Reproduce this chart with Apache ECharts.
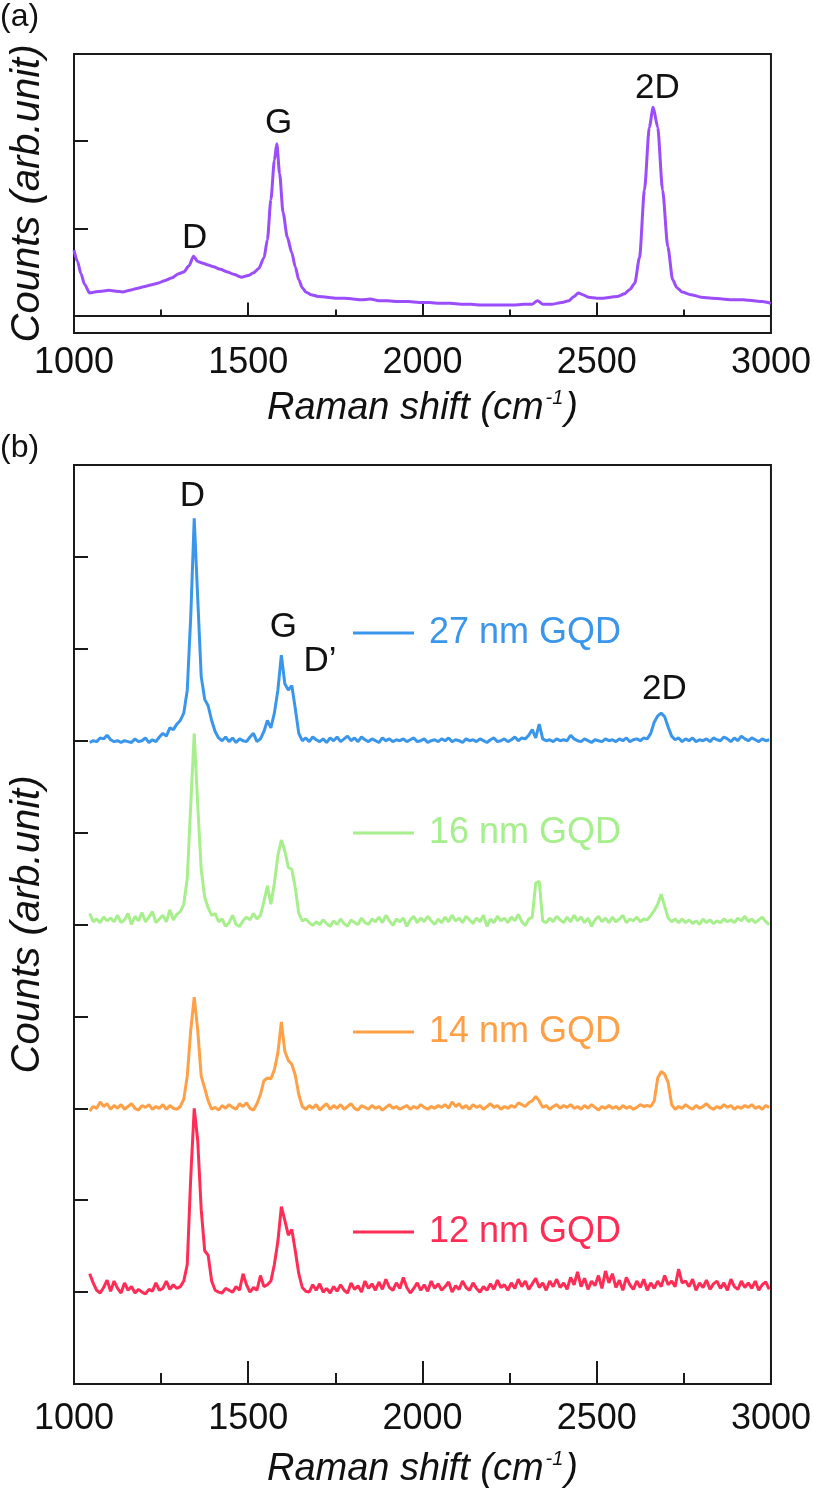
<!DOCTYPE html>
<html><head><meta charset="utf-8">
<script src="https://cdn.jsdelivr.net/npm/echarts@6/dist/echarts.min.js"></script>
<style>html,body{margin:0;padding:0;background:#fff}#c{width:814px;height:1496px}</style>
</head><body><div id="c"></div>
<script>
// ---------- panel (a): graphene ----------
const shiftA = [1000,1010,1020,1030,1045,1060,1080,1100,1120,1140,1160,1180,1200,1220,1240,1260,1280,1300,1315,1330,1343,1355,1370,1385,1400,1420,1440,1460,1480,1500,1515,1530,1545,1555,1565,1575,1582,1590,1600,1612,1625,1635,1645,1655,1665,1680,1700,1725,1750,1775,1800,1825,1850,1875,1900,1930,1960,1990,2020,2050,2080,2110,2140,2170,2200,2230,2260,2290,2315,2330,2345,2370,2400,2420,2435,2447,2460,2477,2500,2520,2540,2560,2580,2595,2609,2623,2637,2651,2662,2675,2689,2704,2718,2730,2745,2770,2800,2830,2860,2890,2920,2950,2975,3000];
const countsA = [0.75,0.62,0.48,0.36,0.26,0.27,0.28,0.29,0.28,0.27,0.29,0.31,0.33,0.35,0.37,0.40,0.43,0.48,0.50,0.57,0.68,0.62,0.60,0.58,0.56,0.53,0.50,0.47,0.44,0.46,0.49,0.54,0.66,0.87,1.33,1.78,1.97,1.63,1.18,0.90,0.72,0.56,0.41,0.32,0.27,0.24,0.22,0.21,0.20,0.20,0.19,0.18,0.19,0.17,0.17,0.16,0.16,0.15,0.15,0.14,0.14,0.13,0.13,0.12,0.12,0.12,0.12,0.13,0.13,0.17,0.13,0.13,0.15,0.17,0.22,0.26,0.24,0.21,0.20,0.20,0.21,0.22,0.25,0.30,0.37,0.67,1.44,2.16,2.39,2.16,1.44,0.79,0.41,0.32,0.27,0.24,0.21,0.20,0.19,0.18,0.18,0.17,0.16,0.14];
const peakNamesA = ['D','G','2D'];

// ---------- panel (b): GQDs (stacked with offsets) ----------
const shiftB = [
1045,1055,1065,1075,1085,1095,1105,1115,1125,1135,
1145,1155,1165,1175,1185,1195,1205,1215,1225,1235,
1245,1255,1265,1275,1285,1295,1305,1315,1325,1335,
1345,1355,1365,1375,1385,1395,1405,1415,1425,1435,
1445,1455,1465,1475,1485,1495,1505,1515,1525,1535,
1545,1555,1565,1575,1585,1595,1605,1615,1625,1635,
1645,1655,1665,1675,1685,1695,1705,1715,1725,1735,
1745,1755,1765,1775,1785,1795,1805,1815,1825,1835,
1845,1855,1865,1875,1885,1895,1905,1915,1925,1935,
1945,1955,1965,1975,1985,1995,2005,2015,2025,2035,
2045,2055,2065,2075,2085,2095,2105,2115,2125,2135,
2145,2155,2165,2175,2185,2195,2205,2215,2225,2235,
2245,2255,2265,2275,2285,2295,2305,2315,2325,2335,
2345,2355,2365,2375,2385,2395,2405,2415,2425,2435,
2445,2455,2465,2475,2485,2495,2505,2515,2525,2535,
2545,2555,2565,2575,2585,2595,2605,2615,2625,2635,
2645,2655,2665,2675,2685,2695,2705,2715,2725,2735,
2745,2755,2765,2775,2785,2795,2805,2815,2825,2835,
2845,2855,2865,2875,2885,2895,2905,2915,2925,2935,
2945,2955,2965,2975,2985,2995];
const gqd27 = [
6.98,7.00,6.99,7.03,7.02,7.06,7.01,6.99,7.00,6.98,
7.00,6.99,6.98,7.02,6.99,7.00,7.03,6.98,7.01,6.99,
7.04,7.08,7.05,7.14,7.12,7.18,7.22,7.30,7.55,8.35,
9.42,8.55,7.70,7.45,7.38,7.22,7.10,7.03,7.00,7.04,
6.99,7.03,6.98,7.02,7.00,6.99,7.04,7.08,6.99,7.02,
7.10,7.22,7.14,7.30,7.55,7.93,7.62,7.55,7.60,7.35,
7.08,7.00,7.03,6.99,7.04,7.01,6.99,7.02,6.98,7.03,
7.00,7.04,6.99,7.02,7.05,7.00,7.03,6.99,7.04,7.01,
6.99,7.02,7.00,6.98,7.03,7.00,7.02,6.99,7.01,7.00,
7.02,6.99,7.01,7.03,6.99,7.00,7.02,6.98,7.00,7.01,
6.99,7.02,7.00,7.03,6.99,7.01,7.00,6.98,7.02,7.00,
7.01,6.99,7.02,7.00,6.98,7.01,7.03,6.99,7.00,7.02,
6.99,7.01,7.04,7.00,7.03,7.02,7.06,7.12,7.03,7.18,
7.02,7.00,7.01,6.99,7.02,7.00,7.01,7.00,7.06,7.02,
7.00,6.99,7.02,7.00,6.98,7.01,7.00,6.99,7.02,7.00,
7.01,6.99,7.02,7.00,7.03,6.99,7.01,7.02,7.00,7.03,
7.02,7.08,7.20,7.27,7.30,7.26,7.15,7.05,7.01,7.03,
6.99,7.02,7.00,7.03,6.99,7.01,7.00,7.02,6.99,7.03,
7.01,7.00,7.04,7.02,6.99,7.03,7.00,7.05,7.02,7.00,
7.03,7.01,6.99,7.02,7.00,7.01];
const gqd16 = [
5.12,5.03,5.06,5.02,5.08,5.04,5.07,5.03,5.10,5.02,
5.05,5.12,5.00,5.09,5.04,5.13,5.03,5.08,5.14,5.02,
5.06,5.10,5.03,5.16,5.05,5.11,5.14,5.22,5.50,6.30,
7.08,6.30,5.60,5.30,5.18,5.10,5.12,5.03,5.06,4.98,
5.02,5.10,5.00,4.98,5.04,5.08,5.05,5.12,5.06,5.10,
5.25,5.42,5.22,5.45,5.75,5.92,5.80,5.62,5.60,5.40,
5.12,5.04,5.06,5.02,4.99,5.03,5.00,5.05,5.01,4.98,
5.04,5.00,5.06,5.01,4.98,5.05,5.02,5.00,5.07,5.02,
5.00,5.06,5.03,5.08,5.02,5.10,5.04,4.99,5.06,5.03,
5.07,4.98,5.05,5.09,5.02,5.07,5.03,5.09,5.04,5.00,
5.06,5.02,5.08,5.03,5.10,5.04,5.07,5.02,5.09,5.05,
5.01,5.07,5.03,5.10,4.98,5.06,5.02,5.09,5.04,5.07,
5.02,5.08,5.04,5.11,5.03,4.99,5.06,5.08,5.45,5.47,
5.04,5.02,5.07,5.03,5.09,5.05,5.02,5.08,5.03,5.10,
5.04,5.08,5.02,5.07,4.98,5.05,5.09,5.03,5.07,5.02,
5.08,5.03,5.06,5.10,5.02,5.06,5.04,5.08,5.03,5.06,
5.05,5.10,5.15,5.22,5.33,5.20,5.07,5.03,5.06,5.02,
5.06,5.02,5.05,5.01,5.04,5.00,5.06,5.02,5.05,5.01,
5.04,5.02,5.06,5.03,5.05,5.02,5.07,5.04,5.09,5.03,
5.06,5.02,5.05,5.08,5.03,5.00];
const gqd14 = [
2.97,3.02,3.00,3.07,3.02,3.05,2.99,3.03,3.00,3.04,
2.99,3.02,3.05,3.00,2.98,3.03,3.01,3.04,2.99,3.02,
3.00,3.04,2.99,3.03,3.00,2.99,3.02,3.10,3.35,3.85,
4.21,3.85,3.35,3.22,3.08,2.99,3.01,2.98,3.03,3.00,
3.04,3.01,2.99,3.05,3.02,3.06,3.00,2.98,3.05,3.15,
3.30,3.33,3.32,3.42,3.60,3.94,3.62,3.52,3.48,3.36,
3.15,3.02,2.99,3.03,3.00,3.04,2.98,3.02,3.05,2.99,
3.03,3.00,3.04,2.99,3.02,3.05,3.00,2.98,3.03,3.01,
2.99,3.03,3.00,3.02,2.98,3.01,3.04,3.00,3.02,2.99,
3.01,3.03,2.99,3.02,3.00,3.04,3.01,2.99,3.02,3.00,
3.03,3.01,3.04,3.00,3.07,3.02,3.05,3.00,3.03,2.99,
3.04,3.01,3.03,2.99,3.02,3.05,3.01,3.03,2.99,3.02,
3.00,3.03,3.01,3.06,3.04,3.02,3.06,3.08,3.13,3.08,
3.01,3.03,2.99,3.02,3.04,3.00,3.03,3.01,3.04,3.00,
3.02,2.99,3.03,3.00,3.04,3.01,2.98,3.02,3.00,3.03,
3.00,3.02,2.99,3.03,3.00,3.02,2.99,3.01,3.04,3.02,
3.03,3.02,3.08,3.33,3.40,3.37,3.28,3.04,2.99,3.02,
3.00,3.04,3.01,2.99,3.03,3.00,3.02,3.05,3.01,2.99,
3.02,3.00,3.04,3.01,3.03,2.99,3.02,3.00,3.03,3.01,
3.04,3.00,3.02,2.99,3.03,3.01];
const gqd12 = [
1.20,1.10,1.02,0.99,1.05,1.13,1.01,1.12,1.04,0.99,
1.10,1.02,1.06,0.99,1.03,1.00,0.98,1.03,1.01,1.10,
1.02,1.04,1.12,1.03,1.08,1.04,1.06,1.12,1.30,2.25,
3.00,2.65,1.90,1.45,1.40,1.12,1.02,1.00,0.99,1.04,
1.02,1.00,1.06,1.02,1.20,1.08,1.00,1.05,1.02,1.18,
1.06,1.08,1.12,1.30,1.55,1.93,1.78,1.62,1.68,1.45,
1.20,1.05,1.01,1.00,1.08,1.02,1.09,1.00,1.04,0.99,
1.06,1.01,1.08,1.02,0.99,1.10,1.03,1.07,1.00,1.12,
1.04,1.09,1.02,1.11,1.03,1.14,1.05,1.02,1.10,1.04,
1.16,1.05,0.99,1.04,1.10,1.02,1.08,1.01,1.12,1.04,
1.09,1.02,1.06,1.11,1.00,1.07,1.03,1.12,1.05,1.02,
1.10,1.04,1.00,1.06,1.02,1.09,1.03,1.13,1.05,1.08,
1.02,1.10,1.04,1.14,1.06,1.12,1.03,1.09,1.15,1.05,
1.10,1.02,1.12,1.06,1.14,1.05,1.10,1.03,1.16,1.08,
1.22,1.06,1.15,1.03,1.12,1.07,1.18,1.04,1.23,1.10,
1.20,1.05,1.13,1.02,1.16,1.08,1.03,1.12,1.05,1.14,
1.02,1.10,1.04,1.12,1.06,1.18,1.08,1.12,1.06,1.25,
1.10,1.12,1.06,1.14,1.02,1.10,1.05,1.13,1.03,1.09,
1.12,1.04,1.10,1.02,1.14,1.06,1.03,1.12,1.05,1.10,
1.04,1.12,1.02,1.08,1.11,1.03];
const seriesNamesB = ['27 nm GQD','16 nm GQD','14 nm GQD','12 nm GQD'];
const seriesDataB = [gqd27, gqd16, gqd14, gqd12];
const xTickInterval = 500;

// ---------- styles ----------
const FONT = 'Liberation Sans, Arial, Helvetica, sans-serif';
const INK = '#1a1a1a';
const colorA = '#9b4cfb';
const colorsB = ['#3a96ea', '#a6ef8c', '#ffa047', '#ff2d55'];
const legendCenterY = [633, 833, 1032, 1232];

const chart = echarts.init(document.getElementById('c'), null, {renderer: 'canvas'});

function xAxisCfg(gi, tickLen, minorLen, labelMargin, nameGap) {
  return {
    gridIndex: gi, type: 'value', min: 1000, max: 3000, interval: xTickInterval,
    axisLine: {show: true, lineStyle: {color: INK, width: 2}},
    axisTick: {show: true, inside: true, length: tickLen, lineStyle: {color: INK, width: 2}},
    minorTick: {show: true, splitNumber: 2, length: minorLen, lineStyle: {color: INK, width: 2}},
    splitLine: {show: false}, minorSplitLine: {show: false},
    axisLabel: {fontSize: 36, color: '#111', margin: labelMargin, fontFamily: FONT, formatter: v => String(v)},
    name: 'Raman shift (cm{s|-1})', nameLocation: 'middle', nameGap: nameGap,
    nameTextStyle: {fontSize: 38, fontStyle: 'italic', color: '#111', fontFamily: FONT, lineHeight: 44,
      rich: {s: {fontSize: 20, fontStyle: 'italic', color: '#111', fontFamily: FONT, verticalAlign: 'top', lineHeight: 44, padding: [2, 2, 0, 2]}}}
  };
}
function yAxisCfg(gi, min, max, ticks) {
  return {
    gridIndex: gi, type: 'value', min: min, max: max,
    axisLine: {show: true, lineStyle: {color: INK, width: 2}},
    axisTick: {show: true, inside: true, length: 14, lineStyle: {color: INK, width: 2}, customValues: ticks},
    axisLabel: {show: false, customValues: ticks},
    splitLine: {show: false},
    name: 'Counts (arb.unit)', nameLocation: 'middle', nameGap: 26, nameRotate: 90,
    nameTextStyle: {fontSize: 40, fontStyle: 'italic', color: '#111', fontFamily: FONT}
  };
}
const peakLabel = {show: true, position: 'inside', formatter: '{b}', fontSize: 35, color: '#111', fontFamily: FONT};

const series = [{
  name: 'Graphene', type: 'line', xAxisIndex: 0, yAxisIndex: 0,
  data: shiftA.map((x, i) => [x, countsA[i]]),
  symbol: 'none', showSymbol: false, smooth: 0.25, smoothMonotone: 'x',
  lineStyle: {color: colorA, width: 3}, itemStyle: {color: colorA},
  markPoint: {symbol: 'circle', symbolSize: 1, itemStyle: {color: 'rgba(0,0,0,0)'}, label: peakLabel,
    data: [
      {name: peakNamesA[0], coord: [1346, 0.89]},
      {name: peakNamesA[1], coord: [1587, 2.20]},
      {name: peakNamesA[2], coord: [2674, 2.61]}
    ]}
}];
seriesNamesB.forEach((n, k) => {
  const s = {
    name: n, type: 'line', xAxisIndex: 1, yAxisIndex: 1,
    data: shiftB.map((x, i) => [x, seriesDataB[k][i]]),
    symbol: 'none', showSymbol: false,
    lineStyle: {color: colorsB[k], width: 3}, itemStyle: {color: colorsB[k]}
  };
  if (k === 0) {
    s.markPoint = {symbol: 'circle', symbolSize: 1, itemStyle: {color: 'rgba(0,0,0,0)'}, label: peakLabel,
      data: [
        {name: 'D', coord: [1340, 9.66]},
        {name: 'G', coord: [1601, 8.23]},
        {name: 'D\u2019', coord: [1706, 7.86]},
        {name: '2D', coord: [2694, 7.56]}
      ]};
  }
  series.push(s);
});

chart.setOption({
  animation: false,
  backgroundColor: '#fff',
  textStyle: {fontFamily: FONT},
  grid: [
    {left: 66, top: 54, width: 705, height: 279, show: true, borderColor: INK, borderWidth: 2, backgroundColor: 'transparent'},
    {left: 66, top: 465, width: 705, height: 928, show: true, borderColor: INK, borderWidth: 2, backgroundColor: 'transparent'}
  ],
  xAxis: [xAxisCfg(0, 13, 6, 12, 53), xAxisCfg(1, 23, 11, 17, 63)],
  yAxis: [yAxisCfg(0, -0.2, 3, [0, 1, 2]), yAxisCfg(1, 0, 10, [1, 2, 3, 4, 5, 6, 7, 8, 9])],
  legend: seriesNamesB.map((n, k) => ({
    data: [n], left: 353, top: legendCenterY[k] - 20, padding: 0, selectedMode: false,
    icon: 'rect', itemWidth: 61, itemHeight: 3,
    textStyle: {fontSize: 36, color: colorsB[k], fontFamily: FONT, lineHeight: 40, padding: [0, 0, 0, 10]}
  })),
  graphic: [
    {type: 'text', left: 0, top: 1, style: {text: '(a)', fontSize: 32, fill: '#111', fontFamily: FONT}},
    {type: 'text', left: 0, top: 432, style: {text: '(b)', fontSize: 32, fill: '#111', fontFamily: FONT}}
  ],
  series: series
});
</script></body></html>
